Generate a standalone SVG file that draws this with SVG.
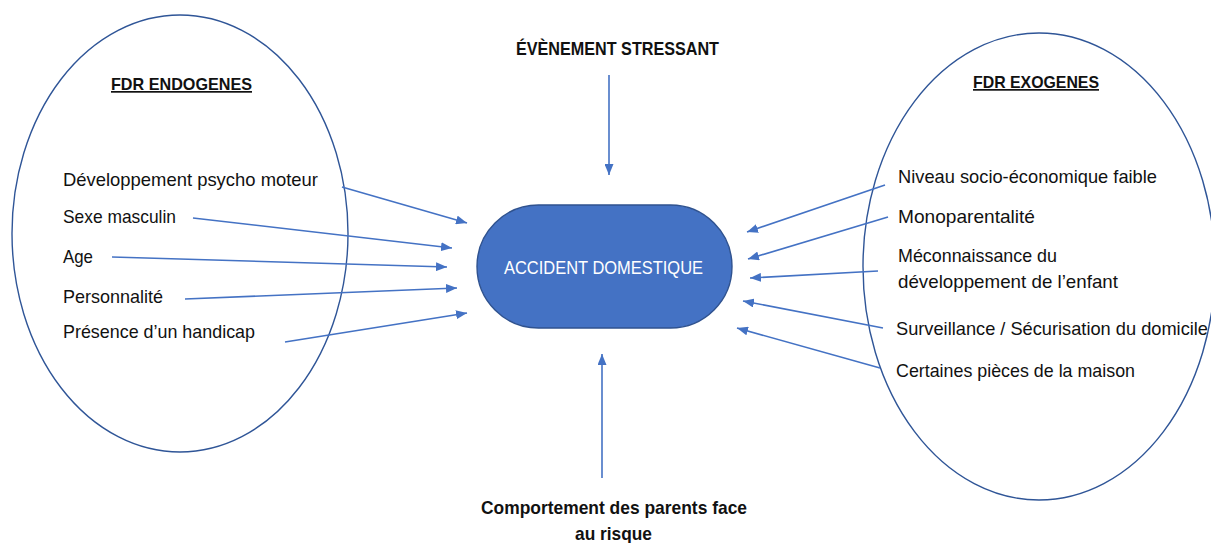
<svg xmlns="http://www.w3.org/2000/svg" width="1211" height="543" viewBox="0 0 1211 543">
<style>
.t{font-family:"Liberation Sans",Arial,sans-serif;font-size:18.4px;fill:#111}
.b{font-family:"Liberation Sans",Arial,sans-serif;font-weight:bold;fill:#111}
.h{font-size:17px;text-decoration:underline}
.ell{fill:none;stroke:#2F5597;stroke-width:1.4}
.c{stroke:#4472C4;stroke-width:1.6;fill:none;marker-end:url(#ah)}
</style>
<defs>
<marker id="ah" markerUnits="userSpaceOnUse" markerWidth="11" markerHeight="9" refX="11" refY="4.5" orient="auto">
<path d="M0,0 L11,4.5 L0,9 z" fill="#4472C4"/>
</marker>
</defs>
<rect width="1211" height="543" fill="#fff"/>
<g id="endogenes">
<ellipse class="ell" cx="180" cy="233.5" rx="168" ry="218.5"/>
<text class="b h" x="111" y="90" textLength="141" lengthAdjust="spacingAndGlyphs">FDR ENDOGENES</text>
<text class="t" x="63" y="186" textLength="255" lengthAdjust="spacingAndGlyphs">Développement psycho moteur</text>
<text class="t" x="63" y="223" textLength="113" lengthAdjust="spacingAndGlyphs">Sexe masculin</text>
<text class="t" x="63" y="263" textLength="30" lengthAdjust="spacingAndGlyphs">Age</text>
<text class="t" x="63" y="303" textLength="100" lengthAdjust="spacingAndGlyphs">Personnalité</text>
<text class="t" x="63" y="338" textLength="192" lengthAdjust="spacingAndGlyphs">Présence d’un handicap</text>
</g>
<g id="exogenes">
<ellipse class="ell" cx="1039" cy="266.5" rx="176" ry="233.5"/>
<text class="b h" x="973" y="88" textLength="126" lengthAdjust="spacingAndGlyphs">FDR EXOGENES</text>
<text class="t" x="898" y="183" textLength="259" lengthAdjust="spacingAndGlyphs">Niveau socio-économique faible</text>
<text class="t" x="898" y="223" textLength="137" lengthAdjust="spacingAndGlyphs">Monoparentalité</text>
<text class="t" x="898" y="262" textLength="159" lengthAdjust="spacingAndGlyphs">Méconnaissance du</text>
<text class="t" x="898" y="288" textLength="220" lengthAdjust="spacingAndGlyphs">développement de l’enfant</text>
<text class="t" x="896" y="335" textLength="312" lengthAdjust="spacingAndGlyphs">Surveillance / Sécurisation du domicile</text>
<text class="t" x="896" y="377" textLength="239" lengthAdjust="spacingAndGlyphs">Certaines pièces de la maison</text>
</g>
<g id="accident">
<rect x="477" y="205" width="255" height="123" rx="61.5" ry="61.5" fill="#4472C4" stroke="#2F528F" stroke-width="1.4"/>
<text x="504" y="274" font-family="Liberation Sans,Arial,sans-serif" font-size="19" fill="#fff" textLength="199" lengthAdjust="spacingAndGlyphs">ACCIDENT DOMESTIQUE</text>
</g>
<g id="stress">
<text class="b" x="516" y="55" font-size="18" textLength="203" lengthAdjust="spacingAndGlyphs">ÉVÈNEMENT STRESSANT</text>
</g>
<g id="parents">
<text class="b" x="481" y="514" font-size="19" textLength="266" lengthAdjust="spacingAndGlyphs">Comportement des parents face</text>
<text class="b" x="575" y="540" font-size="19" textLength="77" lengthAdjust="spacingAndGlyphs">au risque</text>
</g>
<g id="connectors">
<line class="c" x1="342" y1="187" x2="467" y2="223"/>
<line class="c" x1="193" y1="218" x2="452" y2="248"/>
<line class="c" x1="112" y1="257" x2="447" y2="267"/>
<line class="c" x1="185" y1="299" x2="457" y2="288"/>
<line class="c" x1="285" y1="342" x2="467" y2="313"/>
<line class="c" x1="885" y1="185" x2="747" y2="232"/>
<line class="c" x1="888" y1="217" x2="748" y2="259"/>
<line class="c" x1="878" y1="271" x2="750" y2="278"/>
<line class="c" x1="883" y1="328" x2="743" y2="301"/>
<line class="c" x1="880" y1="368" x2="737" y2="328"/>
<line class="c" x1="609" y1="75" x2="609" y2="175"/>
<line class="c" x1="602" y1="478" x2="602" y2="354"/>
</g>
</svg>
